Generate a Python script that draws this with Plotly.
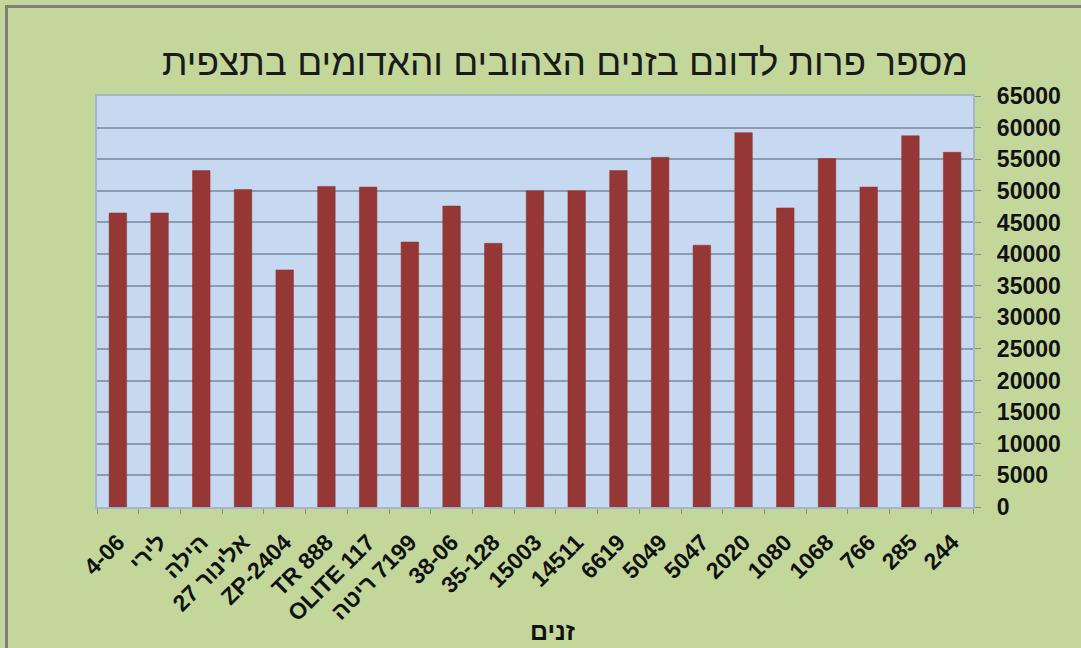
import plotly.graph_objects as go

categories = ["4-06", "לירי", "הילה", "27 אלינור", "ZP-2404", "TR 888", "OLITE 117",
              "ריטה\u200e 7199", "38-06", "35-128", "15003", "14511", "6619", "5049", "5047",
              "2020", "1080", "1068", "766", "285", "244"]
values = [46500, 46500, 53200, 50200, 37500, 50700, 50600, 41900, 47600, 41700, 50000,
          50000, 53200, 55300, 41400, 59200, 47300, 55100, 50600, 58700, 56100]

title_text = "מספר פרות לדונם בזנים הצהובים והאדומים בתצפית"
x_title = "זנים"

FONT = "Liberation Sans, Arial, DejaVu Sans, sans-serif"

W, H = 1081, 648
L, R, T, B = 97, 108, 96, 141
PW, PH = W - L - R, H - T - B

def px_x(p):
    return (p - L) / PW

def px_y(p):
    return (H - B - p) / PH

fig = go.Figure()
fig.add_trace(go.Bar(
    x=categories, y=values,
    marker=dict(color="#953735", line=dict(color="#8a3230", width=0.5)),
    width=0.42,
))

fig.update_layout(
    width=W, height=H,
    paper_bgcolor="#C4D79B",
    plot_bgcolor="#C6D9F1",
    margin=dict(l=L, r=R, t=T, b=B, autoexpand=False),
    showlegend=False,
    title=dict(text=title_text, x=565 / W, xref="container", xanchor="center",
               y=1 - 62 / H, yref="container", yanchor="middle",
               font=dict(family=FONT, size=37, color="#1a1a1a")),
)

fig.update_xaxes(
    tickangle=-45, automargin=False,
    tickfont=dict(family=FONT, size=23, color="#111111", weight="bold"),
    ticks="outside", ticklen=5, tickcolor="#8c8c8c", tickson="boundaries",
    ticklabelstandoff=11,
    showline=True, linecolor="#A6B5CC", linewidth=1.5, mirror=True,
    showgrid=False,
)

fig.update_yaxes(
    side="right", automargin=False,
    range=[0, 65000], dtick=5000, tick0=0, tickformat="d", tickprefix="\u2002",
    tickfont=dict(family=FONT, size=23, color="#111111", weight="bold"),
    ticks="outside", ticklen=6, tickcolor="#8c8c8c",
    showline=True, linecolor="#A6B5CC", linewidth=1.5, mirror=True,
    showgrid=True, gridcolor="#8E9BAE", gridwidth=1.5,
    zeroline=False,
)

fig.add_annotation(text=x_title, xref="paper", yref="paper", x=px_x(552), y=px_y(631),
                   xanchor="center", yanchor="middle", showarrow=False,
                   font=dict(family=FONT, size=25, color="#111111", weight="bold"))

fig.add_shape(type="rect", xref="paper", yref="paper",
              x0=px_x(6.5), x1=px_x(1090), y0=px_y(660), y1=px_y(6.5),
              line=dict(color="#7f7f7f", width=3), layer="below")

fig.write_html("out.html", config={"displayModeBar": False},
               post_script="document.body.style.margin='0';document.body.style.overflow='hidden';")
